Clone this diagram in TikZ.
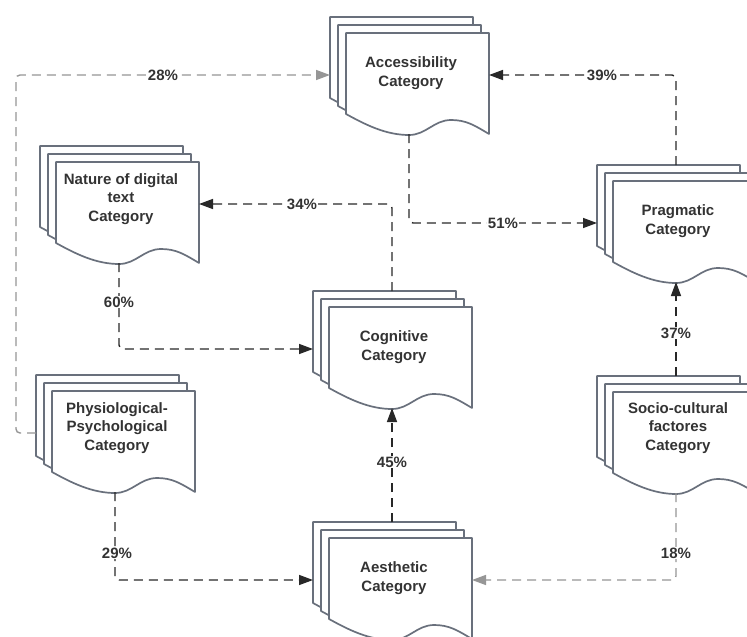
\documentclass[tikz,border=0pt]{standalone}
\usepackage{fontspec}
\setmainfont{Liberation Sans}
\usetikzlibrary{arrows.meta}
\definecolor{shapeline}{RGB}{105,112,124}
\definecolor{txt}{RGB}{51,51,51}
\definecolor{darkline}{RGB}{40,40,40}
\definecolor{lightline}{RGB}{150,150,150}
\tikzset{
 page/.style={draw=shapeline, line width=1.7pt, fill=white, line join=round},
 lbl/.style={font=\bfseries\fontsize{15}{18.5}\selectfont, text=txt, align=center, inner sep=0pt},
 pct/.style={font=\bfseries\fontsize{15}{17}\selectfont, text=txt, fill=white, inner sep=1pt},
 conn/.style={draw=darkline, line width=1.4pt, dash pattern=on 9pt off 6pt, rounded corners=4pt, -{Triangle[length=14pt,width=10pt]}},
 connlight/.style={conn, draw=lightline},
}
% #1 text y-offset, #2 name, #3 x, #4 y (front page top-left), #5 text
\newcommand{\docstack}[5][40]{%
 \foreach \o in {16,8,0}{%
  \begin{scope}[shift={(#3-\o,#4-\o)}]
   \path[page] (0,0) -- (143,0) -- (143,101)
     .. controls (128,92) and (120,87) .. (105,87)
     .. controls (88,87) and (80,102) .. (63,102)
     .. controls (40,102) and (20,92) .. (0,81) -- cycle;
  \end{scope}}
 \node[lbl] (#2) at (#3+65,#4+#1) {#5};
 \coordinate (#2-n) at (#3+63,#4-16);
 \coordinate (#2-s) at (#3+63,#4+101);
 \coordinate (#2-w) at (#3-16,#4+42);
 \coordinate (#2-e) at (#3+143,#4+42);
}
\begin{document}
\begin{tikzpicture}[x=1pt,y=-1pt]
\useasboundingbox (0,0) rectangle (747,637);
\clip (0,0) rectangle (747,637);
\fill[white] (0,0) rectangle (747,637);

\docstack{acc}{346}{33}{Accessibility\\Category}
\docstack[37]{nat}{56}{162}{Nature of digital\\text\\Category}
\docstack{prag}{613}{181}{Pragmatic\\Category}
\docstack{cog}{329}{307}{Cognitive\\Category}
\docstack[37]{phy}{52}{391}{Physiological-\\Psychological\\Category}
\docstack[36]{soc}{613}{392}{Socio-cultural\\factores\\Category}
\docstack{aes}{329}{538}{Aesthetic\\Category}

\draw[connlight] (phy-w) -- ++(-20,0) |- (acc-w);
\draw[conn] (prag-n) |- (acc-e);
\draw[conn] (acc-s) |- (prag-w);
\draw[conn] (cog-n) |- (nat-e);
\draw[conn] (nat-s) |- (cog-w);
\draw[conn] (aes-n) -- (cog-s);
\draw[conn] (soc-n) -- (prag-s);
\draw[conn] (phy-s) |- (aes-w);
\draw[connlight] (soc-s) |- (aes-e);

\node[pct] (l28) at (163,75) {28\%};
\node[pct] (l39) at (602,75) {39\%};
\node[pct] (l34) at (302,204) {34\%};
\node[pct] (l51) at (503,223) {51\%};
\node[pct] (l60) at (119,302) {60\%};
\node[pct] (l45) at (392,462) {45\%};
\node[pct] (l37) at (676,333) {37\%};
\node[pct] (l29) at (117,553) {29\%};
\node[pct] (l18) at (676,553) {18\%};
\end{tikzpicture}
\end{document}
